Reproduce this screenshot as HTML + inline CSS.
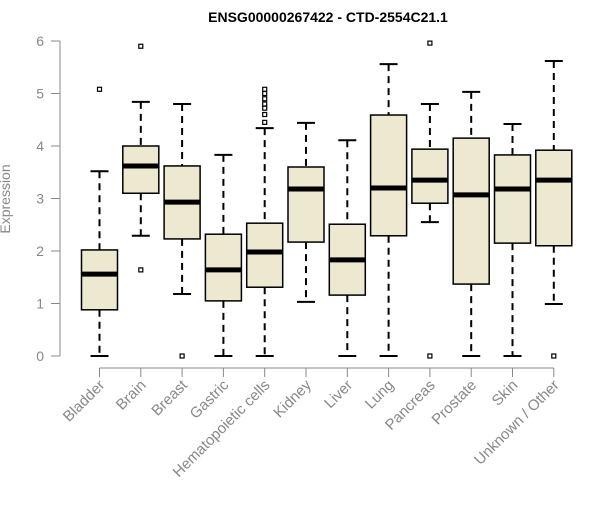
<!DOCTYPE html>
<html><head><meta charset="utf-8"><style>
body{margin:0;background:#fff}
svg text{font-family:"Liberation Sans",sans-serif}
</style></head><body>
<svg id="chart" width="600" height="500" xmlns="http://www.w3.org/2000/svg">
<text x="328" y="22" text-anchor="middle" font-size="14" font-weight="bold">ENSG00000267422 - CTD-2554C21.1</text>
<text transform="translate(10,199) rotate(-90)" text-anchor="middle" font-size="14" fill="#888">Expression</text>
<g id="axes"></g><g id="boxes"></g>
</svg>
<script>
const categories=["Bladder","Brain","Breast","Gastric","Hematopoietic cells","Kidney","Liver","Lung","Pancreas","Prostate","Skin","Unknown / Other"];
const lows=[0,2.29,1.18,0,0,1.03,0,0,2.55,0,0,0.99];
const q1s=[0.88,3.1,2.23,1.05,1.31,2.17,1.16,2.29,2.91,1.37,2.15,2.1];
const medians=[1.56,3.62,2.93,1.64,1.98,3.18,1.83,3.2,3.35,3.07,3.18,3.35];
const q3s=[2.02,4.0,3.62,2.32,2.53,3.6,2.51,4.59,3.94,4.15,3.83,3.92];
const highs=[3.52,4.84,4.8,3.83,4.34,4.44,4.11,5.56,4.8,5.03,4.42,5.62];
const outliers=[[5.08],[5.9,1.64],[0],[],[4.45,4.6,4.72,4.8,4.9,5.0,5.08],[],[],[],[5.96,0],[],[],[0]];
const yTicks=[0,1,2,3,4,5,6];
const NS="http://www.w3.org/2000/svg";
const y=v=>356-v*52.5;
const x=i=>99.5+i*41.3;
function mk(tag,attrs,parent){const e=document.createElementNS(NS,tag);for(const k in attrs)e.setAttribute(k,attrs[k]);parent.appendChild(e);return e;}
const ax=document.getElementById('axes'),bx=document.getElementById('boxes');
let yl=mk('line',{x1:60,x2:60,y1:y(6),y2:y(0),stroke:'#888'},ax);


yTicks.forEach(t=>{
 const l=mk('line',{x1:51,x2:60,y1:y(t),y2:y(t),stroke:'#888'},ax);
 
 
 const tx=mk('text',{x:44,y:y(t)+5,'text-anchor':'end','font-size':14,fill:'#888'},ax);
 tx.textContent=t;
 
 
});
let xl=mk('line',{x1:x(0),x2:x(11),y1:368,y2:368,stroke:'#888'},ax);


categories.forEach((c,i)=>{
 const cx=x(i);
 const l=mk('line',{x1:cx,x2:cx,y1:368,y2:377,stroke:'#888'},ax);
 
 
 const tx=mk('text',{transform:`translate(${cx+6},${386}) rotate(-45)`,'text-anchor':'end','font-size':15,fill:'#888'},ax);
 tx.textContent=c;
 
 
 const g=mk('g',{},bx);
 
 
 mk('line',{x1:cx,x2:cx,y1:y(highs[i]),y2:y(q3s[i]),stroke:'#000','stroke-width':2,'stroke-dasharray':'7,5'},g);
 mk('line',{x1:cx,x2:cx,y1:y(q1s[i]),y2:y(lows[i]),stroke:'#000','stroke-width':2,'stroke-dasharray':'7,5'},g);
 mk('line',{x1:cx-9,x2:cx+9,y1:y(highs[i]),y2:y(highs[i]),stroke:'#000','stroke-width':2},g);
 mk('line',{x1:cx-9,x2:cx+9,y1:y(lows[i]),y2:y(lows[i]),stroke:'#000','stroke-width':2},g);
 mk('rect',{x:cx-18,y:y(q3s[i]),width:36,height:y(q1s[i])-y(q3s[i]),fill:'#ede8d0',stroke:'#000','stroke-width':1.5},g);
 mk('line',{x1:cx-18,x2:cx+18,y1:y(medians[i]),y2:y(medians[i]),stroke:'#000','stroke-width':5},g);
 outliers[i].forEach(o=>{
  const p=mk('rect',{x:cx-2,y:y(o)-2,width:4,height:4,fill:'none',stroke:'#000','stroke-width':1.2},g);
  
  
 });
});
</script>
</body></html>
